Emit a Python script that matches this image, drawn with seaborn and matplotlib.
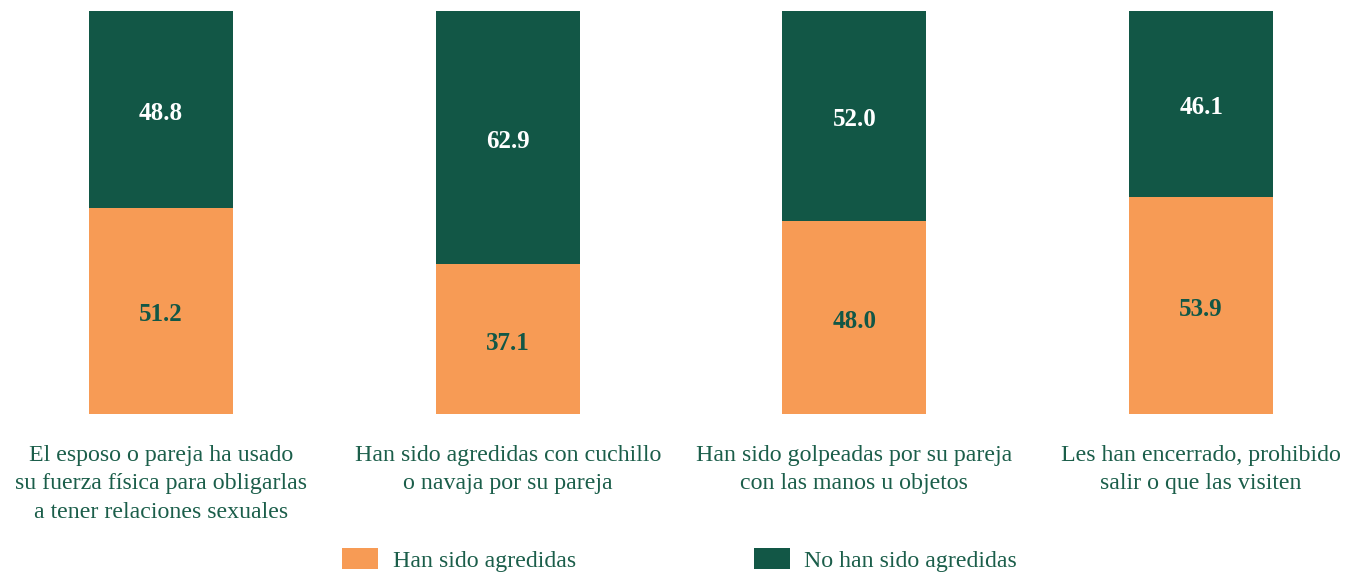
import matplotlib
matplotlib.use("Agg")
import matplotlib.pyplot as plt
import matplotlib.transforms as mtransforms
import seaborn as sns
import pandas as pd
from matplotlib.patches import Patch

categories = [
    "El esposo o pareja ha usado\nsu fuerza física para obligarlas\na tener relaciones sexuales",
    "Han sido agredidas con cuchillo\no navaja por su pareja",
    "Han sido golpeadas por su pareja\ncon las manos u objetos",
    "Les han encerrado, prohibido\nsalir o que las visiten",
]
agredidas = [51.2, 37.1, 48.0, 53.9]
no_agredidas = [48.8, 62.9, 52.0, 46.1]
series_names = ["Han sido agredidas", "No han sido agredidas"]

ORANGE = "#F79B55"
GREEN = "#125746"
TEXT = "#1B5E4A"

sns.set_theme(style="white")
plt.rcParams["font.family"] = ["Liberation Serif", "DejaVu Serif"]

df = pd.DataFrame({
    "cat": categories,
    "agr": agredidas,
    "no": no_agredidas,
})
df["total"] = df["agr"] + df["no"]

fig = plt.figure(figsize=(13.53, 5.74), dpi=100)
ax = fig.add_axes([0, (574 - 414) / 574, 1, (414 - 11) / 574])

W = 0.415
sns.barplot(data=df, x="cat", y="total", color=GREEN, saturation=1, width=W, ax=ax, linewidth=0)
sns.barplot(data=df, x="cat", y="agr", color=ORANGE, saturation=1, width=W, ax=ax, linewidth=0)

shift = mtransforms.offset_copy(ax.transData, fig=fig, x=0, y=-4, units="dots")
for i, (a, n) in enumerate(zip(agredidas, no_agredidas)):
    ax.text(i, a / 2, f"{a:.1f}", ha="center", va="center", color=GREEN,
            fontsize=18, fontweight="bold", transform=shift)
    ax.text(i, a + n / 2, f"{n:.1f}", ha="center", va="center", color="white",
            fontsize=18, fontweight="bold", transform=shift)

spacing = 346.7
ax.set_xlim(-161 / spacing, (1353 - 161) / spacing)
ax.set_ylim(0, 100)
ax.set_xlabel("")
ax.set_ylabel("")
ax.set_yticks([])
ax.tick_params(axis="x", length=0, pad=22, labelsize=17.2, labelcolor=TEXT)
for lbl in ax.get_xticklabels():
    lbl.set_linespacing(1.47)
    lbl.set_va("top")
for s in ax.spines.values():
    s.set_visible(False)
ax.set_facecolor("none")

handles = [Patch(facecolor=ORANGE, edgecolor="none"), Patch(facecolor=GREEN, edgecolor="none")]
leg = fig.legend(handles, series_names, loc="center", bbox_to_anchor=(679.5 / 1353, 1 - 560 / 574),
                 ncol=2, frameon=False, fontsize=17.2, handlelength=1.5, handleheight=1.0,
                 handletextpad=0.6, columnspacing=7.45)
for t in leg.get_texts():
    t.set_color(TEXT)

fig.savefig("out.png", dpi=100)
